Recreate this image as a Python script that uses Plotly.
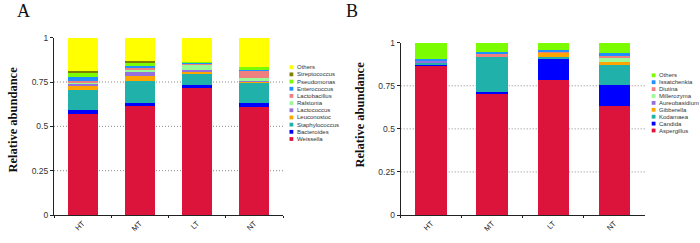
import plotly.graph_objects as go

W, H = 700, 243

groups = ["HT", "MT", "LT", "NT"]

# Panel A: bacteria (bottom -> top)
bac_names = ["Weissella", "Bacteroides", "Staphylococcus", "Leuconostoc", "Lactococcus",
             "Ralstonia", "Lactobacillus", "Enterococcus", "Pseudomonas", "Streptococcus", "Others"]
bac_values = {
    "Weissella":      [0.567, 0.621, 0.723, 0.610],
    "Bacteroides":    [0.026, 0.010, 0.011, 0.021],
    "Staphylococcus": [0.113, 0.122, 0.063, 0.117],
    "Leuconostoc":    [0.024, 0.032, 0.015, 0.009],
    "Lactococcus":    [0.012, 0.019, 0.007, 0.006],
    "Ralstonia":      [0.008, 0.015, 0.025, 0.009],
    "Lactobacillus":  [0.007, 0.012, 0.013, 0.043],
    "Enterococcus":   [0.021, 0.007, 0.003, 0.010],
    "Pseudomonas":    [0.024, 0.021, 0.004, 0.011],
    "Streptococcus":  [0.013, 0.011, 0.000, 0.000],
    "Others":         [0.185, 0.130, 0.136, 0.164],
}
bac_colors = ["#DC143C", "#0000FF", "#20B2AA", "#FFA500", "#9370DB",
              "#98FB98", "#F08080", "#1E90FF", "#7CFC00", "#808000", "#FFFF00"]

# Panel B: fungi (bottom -> top)
fun_names = ["Aspergillus", "Candida", "Kodamaea", "Gibberella", "Aureobasidium",
             "Millerozyma", "Diutina", "Issatchenkia", "Others"]
fun_values = {
    "Aspergillus":   [0.867, 0.704, 0.784, 0.633],
    "Candida":       [0.007, 0.010, 0.127, 0.123],
    "Kodamaea":      [0.010, 0.209, 0.008, 0.122],
    "Gibberella":    [0.000, 0.000, 0.024, 0.010],
    "Aureobasidium": [0.016, 0.000, 0.000, 0.000],
    "Millerozyma":   [0.000, 0.000, 0.000, 0.025],
    "Diutina":       [0.000, 0.011, 0.005, 0.016],
    "Issatchenkia":  [0.003, 0.012, 0.011, 0.011],
    "Others":        [0.097, 0.054, 0.041, 0.060],
}
fun_colors = ["#DC143C", "#0000FF", "#20B2AA", "#FFA500", "#9370DB",
              "#98FB98", "#F08080", "#1E90FF", "#7CFC00"]

ytick_vals = [0, 0.25, 0.5, 0.75, 1]
ytick_text = ["0", "0.25", "0.5", "0.75", "1"]


def px(x):
    return x / W


def py(y):
    return 1 - y / H


fig = go.Figure()

for name, col in zip(bac_names, bac_colors):
    fig.add_trace(go.Bar(x=groups, y=bac_values[name], name=name, marker_color=col,
                         marker_line_width=0, xaxis="x", yaxis="y", showlegend=False))
for name, col in zip(fun_names, fun_colors):
    fig.add_trace(go.Bar(x=groups, y=fun_values[name], name=name, marker_color=col,
                         marker_line_width=0, xaxis="x2", yaxis="y2", showlegend=False))

xcommon = dict(type="category", showline=True, linecolor="#222", linewidth=1.2,
               ticks="outside", ticklen=2, tickcolor="#222", tickson="boundaries",
               tickangle=-45, tickfont=dict(family="Liberation Sans", size=7.5, color="#222"),
               showgrid=False, zeroline=False, automargin=False)
ycommon = dict(range=[0, 1], showline=True, linecolor="#222", linewidth=1.2,
               ticks="outside", ticklen=3, tickcolor="#222",
               tickvals=ytick_vals, ticktext=ytick_text,
               tickfont=dict(family="Liberation Sans", size=8.5, color="#333"),
               showgrid=False, zeroline=False, automargin=False)

fig.update_layout(
    width=W, height=H,
    margin=dict(l=0, r=0, t=0, b=0),
    paper_bgcolor="white", plot_bgcolor="white",
    barmode="stack", bargap=0.48,
    xaxis=dict(domain=[px(54), px(283)], anchor="y", **xcommon),
    yaxis=dict(domain=[py(215), py(37.7)], anchor="x", **ycommon),
    xaxis2=dict(domain=[px(400.7), px(645)], anchor="y2", **xcommon),
    yaxis2=dict(domain=[py(215), py(42.7)], anchor="x2", **ycommon),
)

shapes = []
annotations = []

# dotted grid lines
for xr, yr in (("x domain", "y"), ("x2 domain", "y2")):
    for v in ytick_vals[1:-1]:
        shapes.append(dict(type="line", xref=xr, yref=yr, x0=0, x1=1, y0=v, y1=v,
                           line=dict(color="#8a8a8a", width=1, dash="1px,2px"), layer="below"))

# y-axis titles
for xc, yc in ((12, 119.5), (359.5, 115)):
    annotations.append(dict(text="<b>Relative abundance</b>", x=px(xc), y=py(yc),
                            xref="paper", yref="paper", xanchor="center", yanchor="middle",
                            textangle=-90, showarrow=False,
                            font=dict(family="Liberation Serif", size=12.5, color="#111")))

# panel letters
for letter, xc in (("A", 23), ("B", 352)):
    annotations.append(dict(text=letter, x=px(xc), y=py(11), xref="paper", yref="paper",
                            xanchor="center", yanchor="middle", showarrow=False,
                            font=dict(family="Liberation Serif", size=18, color="#111")))

# legends (top item = last stacked series)
def add_legend(names, colors, sq_x, text_x, top_y, step):
    for i, (name, col) in enumerate(zip(names[::-1], colors[::-1])):
        cy = top_y + i * step
        shapes.append(dict(type="rect", xref="paper", yref="paper",
                           x0=px(sq_x), x1=px(sq_x + 3.8), y0=py(cy - 1.9), y1=py(cy + 1.9),
                           fillcolor=col, line=dict(width=0)))
        annotations.append(dict(text=name, x=px(text_x), y=py(cy), xref="paper", yref="paper",
                                xanchor="left", yanchor="middle", showarrow=False,
                                font=dict(family="Liberation Sans", size=6, color="#333")))


add_legend(bac_names, bac_colors, 289.5, 295, 67.2, 7.18)
add_legend(fun_names, fun_colors, 651.7, 657, 75.3, 6.9)

fig.update_layout(shapes=shapes, annotations=annotations)

fig.write_html("out.html")
